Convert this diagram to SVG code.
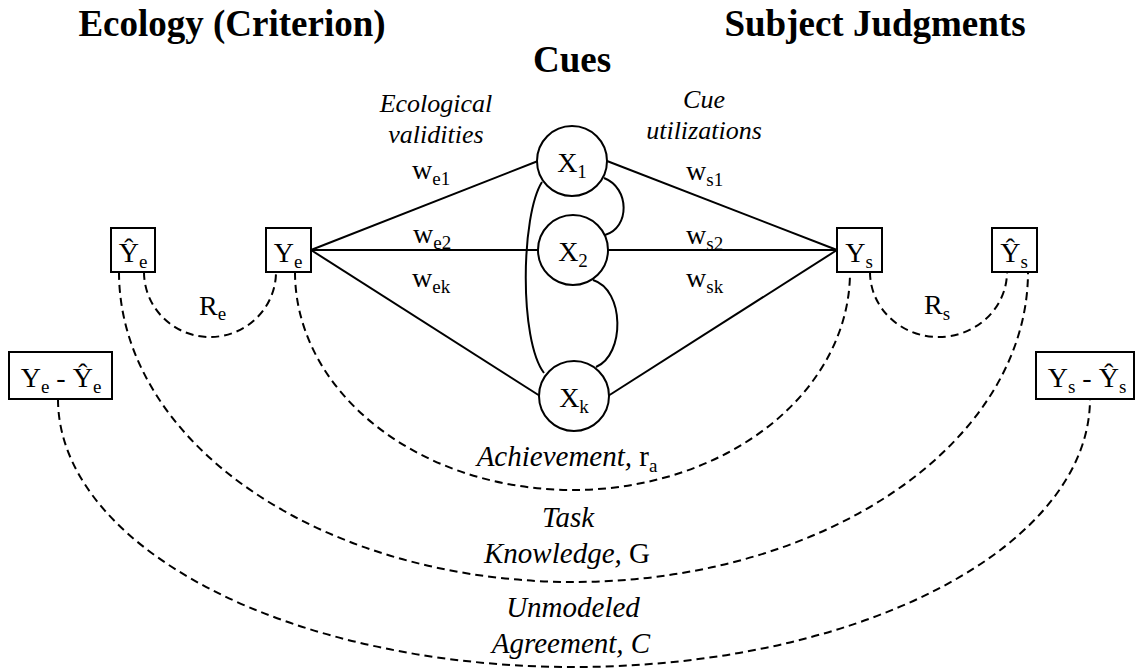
<svg xmlns="http://www.w3.org/2000/svg" width="1139" height="671" viewBox="0 0 1139 671" font-family="'Liberation Serif', 'DejaVu Serif', serif">
  <style>
    .t { font-family: "Liberation Serif", "DejaVu Serif", serif; fill: #000; }
    .title { font-weight: bold; font-size: 37px; }
    .lbl { font-size: 28px; }
    .cap { font-size: 26px; font-style: italic; }
    .big { font-size: 29px; }
    .it { font-style: italic; }
    .sub { font-size: 19px; }
    .box { fill: #fff; stroke: #000; stroke-width: 2; }
    .cue { fill: #fff; stroke: #000; stroke-width: 2; }
    .edge { fill: none; stroke: #000; stroke-width: 2; }
    .dash { fill: none; stroke: #000; stroke-width: 2; stroke-dasharray: 8 5; }
  </style>

  <!-- section headings -->
  <text class="t title" x="232" y="36" text-anchor="middle">Ecology (Criterion)</text>
  <text class="t title" x="875" y="36" text-anchor="middle">Subject Judgments</text>
  <text class="t title" x="572" y="72" text-anchor="middle">Cues</text>

  <!-- weight group captions -->
  <text class="t cap" x="436" y="112" text-anchor="middle">Ecological</text>
  <text class="t cap" x="436" y="143" text-anchor="middle">validities</text>
  <text class="t cap" x="704" y="108" text-anchor="middle">Cue</text>
  <text class="t cap" x="704" y="139" text-anchor="middle">utilizations</text>

  <!-- connectors -->
  <g id="connectors">
    <!-- criterion to cues -->
    <line class="edge" x1="311" y1="250" x2="538" y2="161"/>
    <line class="edge" x1="311" y1="250" x2="538" y2="250"/>
    <line class="edge" x1="311" y1="250" x2="540" y2="396"/>
    <!-- cues to judgment -->
    <line class="edge" x1="607" y1="161" x2="837" y2="250"/>
    <line class="edge" x1="608" y1="250" x2="837" y2="250"/>
    <line class="edge" x1="608" y1="396" x2="837" y2="250"/>
    <!-- cue intercorrelations -->
    <path class="edge" d="M604,178 C630,188 630,228 605,235"/>
    <path class="edge" d="M593,280 C625,290 625,355 596,367"/>
    <path class="edge" d="M542,182 C521,215 519,340 544,373"/>
    <!-- correlation arcs -->
    <path class="dash" d="M144,272 A66,65 0 0 0 276,272"/>
    <path class="dash" d="M870,272 A68.5,65 0 0 0 1007,272"/>
    <path class="dash" d="M295,272 A277.5,218 0 0 0 850,272"/>
    <path class="dash" d="M119,272 A454.5,310 0 0 0 1028,272"/>
    <path class="dash" d="M58,399 A516,268 0 0 0 1090,399"/>

    <!-- connector labels -->
    <text class="t lbl" x="412" y="179">w<tspan class="sub" dy="6">e1</tspan></text>
    <text class="t lbl" x="413" y="243">w<tspan class="sub" dy="6">e2</tspan></text>
    <text class="t lbl" x="412" y="287">w<tspan class="sub" dy="6">ek</tspan></text>
    <text class="t lbl" x="686" y="180">w<tspan class="sub" dy="6">s1</tspan></text>
    <text class="t lbl" x="686" y="244">w<tspan class="sub" dy="6">s2</tspan></text>
    <text class="t lbl" x="686" y="287">w<tspan class="sub" dy="6">sk</tspan></text>
    <text class="t lbl" x="199" y="315">R<tspan class="sub" dy="5">e</tspan></text>
    <text class="t lbl" x="924" y="314">R<tspan class="sub" dy="6">s</tspan></text>
    <text class="t big" x="567" y="466" text-anchor="middle"><tspan class="it">Achievement,</tspan> r<tspan class="sub" dy="6">a</tspan></text>
    <text class="t big it" x="568" y="527" text-anchor="middle">Task</text>
    <text class="t big" x="567" y="563" text-anchor="middle"><tspan class="it">Knowledge,</tspan> G</text>
    <text class="t big it" x="573" y="617" text-anchor="middle">Unmodeled</text>
    <text class="t big it" x="571" y="653" text-anchor="middle">Agreement, C</text>
  </g>

  <!-- criterion side -->
  <g id="node-ye-hat">
    <rect class="box" x="111" y="228" width="44" height="44"/>
    <text class="t lbl" x="133" y="262" text-anchor="middle">Ŷ<tspan class="sub" dy="6">e</tspan></text>
  </g>
  <g id="node-ye">
    <rect class="box" x="266" y="228" width="45" height="44"/>
    <text class="t lbl" x="288" y="262" text-anchor="middle">Y<tspan class="sub" dy="6">e</tspan></text>
  </g>
  <g id="node-ye-resid">
    <rect class="box" x="9" y="352" width="103" height="47"/>
    <text class="t lbl" x="61" y="387" text-anchor="middle">Y<tspan class="sub" dy="6">e</tspan><tspan dy="-6"> - Ŷ</tspan><tspan class="sub" dy="6">e</tspan></text>
  </g>

  <!-- cues -->
  <g id="node-x1">
    <circle class="cue" cx="572" cy="161" r="35"/>
    <text class="t lbl" x="572" y="172" text-anchor="middle">X<tspan class="sub" dy="6">1</tspan></text>
  </g>
  <g id="node-x2">
    <circle class="cue" cx="573" cy="250" r="35"/>
    <text class="t lbl" x="573" y="261" text-anchor="middle">X<tspan class="sub" dy="6">2</tspan></text>
  </g>
  <g id="node-xk">
    <circle class="cue" cx="574" cy="396" r="35"/>
    <text class="t lbl" x="574" y="407" text-anchor="middle">X<tspan class="sub" dy="6">k</tspan></text>
  </g>

  <!-- judgment side -->
  <g id="node-ys">
    <rect class="box" x="837" y="228" width="45" height="44"/>
    <text class="t lbl" x="859" y="262" text-anchor="middle">Y<tspan class="sub" dy="6">s</tspan></text>
  </g>
  <g id="node-ys-hat">
    <rect class="box" x="992" y="228" width="45" height="44"/>
    <text class="t lbl" x="1014" y="262" text-anchor="middle">Ŷ<tspan class="sub" dy="6">s</tspan></text>
  </g>
  <g id="node-ys-resid">
    <rect class="box" x="1036" y="352" width="98" height="47"/>
    <text class="t lbl" x="1087" y="387" text-anchor="middle">Y<tspan class="sub" dy="6">s</tspan><tspan dy="-6"> - Ŷ</tspan><tspan class="sub" dy="6">s</tspan></text>
  </g>
</svg>
